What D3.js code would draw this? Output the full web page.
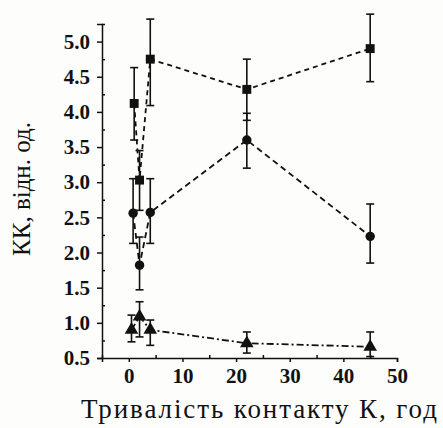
<!DOCTYPE html>
<html>
<head>
<meta charset="utf-8">
<script src="https://cdn.jsdelivr.net/npm/d3@7"></script>
<style>
  body { margin: 0; background: #fdfdfb; }
</style>
</head>
<body>
<div id="chart"></div>
<script>
// hours of contact
const squareX = [1, 2, 4, 22, 45];
const squareY = [4.12, 3.03, 4.75, 4.32, 4.9];
const squareLo = [3.6, 2.6, 4.09, 3.88, 4.43];
const squareHi = [4.63, 3.45, 5.32, 4.75, 5.39];

const circleX = [0.8, 2, 4, 22, 45];
const circleY = [2.56, 1.82, 2.57, 3.6, 2.23];
const circleLo = [2.13, 1.47, 2.13, 3.2, 1.85];
const circleHi = [3.05, 2.22, 3.05, 3.98, 2.69];

const triX = [0.5, 2, 4, 22, 45];
const triY = [0.9, 1.09, 0.9, 0.71, 0.66];
const triLo = [0.73, 0.8, 0.68, 0.57, 0.52];
const triHi = [1.11, 1.3, 1.04, 0.87, 0.87];

const xTicks = [0, 10, 20, 30, 40, 50];
const yTicks = [0.5, 1.0, 1.5, 2.0, 2.5, 3.0, 3.5, 4.0, 4.5, 5.0];

const width = 443, height = 428;
const serif = "'Liberation Serif', 'Times New Roman', 'DejaVu Serif', serif";

const x = d3.scaleLinear().domain([-5, 50]).range([102, 397]);
const y = d3.scaleLinear().domain([0.5, 5.25]).range([358, 24]);

const svg = d3.select("#chart").append("svg")
    .attr("width", width)
    .attr("height", height);

// axes
const xAxis = svg.append("g")
    .attr("transform", `translate(0, ${y(0.5)})`)
    .call(d3.axisBottom(x).tickValues(xTicks).tickSize(4).tickPadding(6).tickFormat(d3.format("d")));

svg.append("g")
    .attr("transform", `translate(0, ${y(0.5)})`)
    .call(d3.axisTop(x).tickValues(d3.range(-5, 51, 5).filter(d => d % 10 != 0)).tickSize(3).tickFormat(""))
    .select(".domain").remove();

const yAxis = svg.append("g")
    .attr("transform", `translate(${x(-5)}, 0)`)
    .call(d3.axisLeft(y).tickValues(yTicks).tickSize(5).tickPadding(7).tickFormat(d3.format(".1f")));

svg.append("g")
    .attr("transform", `translate(${x(-5)}, 0)`)
    .call(d3.axisRight(y).tickValues(d3.range(0.75, 5.3, 0.5)).tickSize(3).tickFormat(""))
    .select(".domain").remove();

svg.selectAll(".tick text")
    .style("font-family", serif)
    .style("font-size", "21px")
    .style("font-weight", "bold")
    .style("fill", "#111");

svg.selectAll(".domain, .tick line").attr("stroke", "#111").attr("stroke-width", 1.5);

// titles
svg.append("text")
    .attr("x", 259)
    .attr("y", 418)
    .attr("text-anchor", "middle")
    .attr("textLength", 356)
    .attr("lengthAdjust", "spacing")
    .style("font-family", serif)
    .style("font-size", "27px")
    .style("fill", "#111")
    .text("Тривалість контакту К, год");

svg.append("text")
    .attr("transform", "translate(21, 189) rotate(-90)")
    .attr("text-anchor", "middle")
    .attr("dy", "0.35em")
    .style("font-family", serif)
    .style("font-size", "25px")
    .style("fill", "#111")
    .text("КК, відн. од.");

// series
function drawSeries(xs, ys, lo, hi, dash, shape) {
    const pts = xs.map((d, i) => ({ x: d, y: ys[i], lo: lo[i], hi: hi[i] }));
    const line = d3.line().x(d => x(d.x)).y(d => y(d.y));

    svg.append("path")
        .datum(pts)
        .attr("d", line)
        .attr("fill", "none")
        .attr("stroke", "#111")
        .attr("stroke-width", 1.8)
        .attr("stroke-dasharray", dash);

    const g = svg.append("g");
    const bars = g.selectAll("g.err").data(pts).enter().append("g").attr("class", "err");
    bars.append("line")
        .attr("x1", d => x(d.x)).attr("x2", d => x(d.x))
        .attr("y1", d => y(d.lo)).attr("y2", d => y(d.hi));
    bars.append("line")
        .attr("x1", d => x(d.x) - 4).attr("x2", d => x(d.x) + 4)
        .attr("y1", d => y(d.lo)).attr("y2", d => y(d.lo));
    bars.append("line")
        .attr("x1", d => x(d.x) - 4).attr("x2", d => x(d.x) + 4)
        .attr("y1", d => y(d.hi)).attr("y2", d => y(d.hi));
    bars.selectAll("line").attr("stroke", "#111").attr("stroke-width", 1.6);

    g.selectAll("path.mark").data(pts).enter().append("path")
        .attr("class", "mark")
        .attr("transform", d => `translate(${x(d.x)}, ${y(d.y)})`)
        .attr("d", d3.symbol().type(shape).size(shape === d3.symbolCircle ? 70 : 80))
        .attr("fill", "#111");
}

drawSeries(squareX, squareY, squareLo, squareHi, "5,4", d3.symbolSquare);
drawSeries(circleX, circleY, circleLo, circleHi, "6,4", d3.symbolCircle);
drawSeries(triX, triY, triLo, triHi, "7,3,2,3", d3.symbolTriangle);
</script>
</body>
</html>
